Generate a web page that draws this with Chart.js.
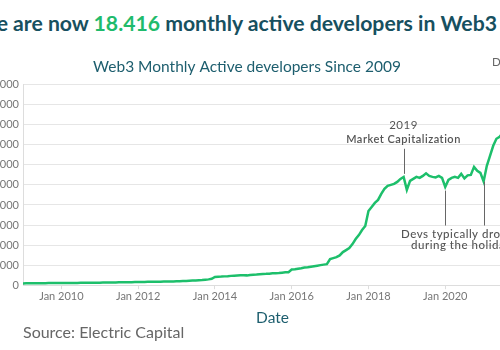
<!DOCTYPE html>
<html>
<head>
<meta charset="utf-8">
<script src="https://cdn.jsdelivr.net/npm/chart.js@4/dist/chart.umd.min.js"></script>
<style>
  html, body { margin: 0; padding: 0; background: #fff; overflow: hidden; }
  body { width: 500px; height: 350px; position: relative; font-family: Lato, "Noto Sans", sans-serif; }
  #headline { position: absolute; right: 3px; top: 13px; white-space: nowrap; font-size: 21.2px; font-weight: 700; color: #17505f; line-height: 1; }
  #headline span { color: #1fbb6c; }
  #wrap { position: absolute; left: -40px; top: 0; width: 600px; height: 350px; }
  #source { position: absolute; left: 23px; top: 322px; font-size: 16px; color: #666; white-space: nowrap; }
</style>
</head>
<body>
<div id="headline">We are now <span>18.416</span> monthly active developers in Web3</div>
<div id="wrap"><canvas id="devChart"></canvas></div>
<div id="source">Source: Electric Capital</div>
<script>
// monthly active developers, Jan 2009 .. Dec 2021
const startYear = 2009;
const devs = [
  180, 185, 190, 195, 200, 200, 205, 205, 210, 210, 215, 215,
  220, 220, 225, 225, 230, 230, 235, 235, 240, 240, 245, 250,
  255, 260, 265, 270, 275, 280, 285, 290, 295, 300, 305, 310,
  315, 320, 330, 335, 340, 345, 350, 355, 360, 365, 370, 380,
  390, 400, 410, 420, 440, 460, 480, 500, 520, 550, 580, 640,
  820, 850, 860, 880, 900, 930, 950, 970, 990, 1000, 980, 1020,
  1050, 1070, 1100, 1120, 1130, 1150, 1180, 1200, 1220, 1250, 1280, 1300,
  1560, 1600, 1650, 1700, 1760, 1800, 1850, 1900, 1950, 2000, 2050, 2100,
  2600, 2700, 2800, 2970, 3300, 3500, 3700, 4100, 4600, 5000, 5500, 5900,
  7400, 7800, 8200, 8500, 9100, 9600, 9900, 10000, 10100, 10300, 10600, 10800,
  9500, 10400, 10600, 10800, 10700, 10900, 11150, 10900, 10800, 10750, 10900, 10700,
  9800, 10500, 10700, 10800, 10700, 11100, 10650, 10950, 11000, 11800, 11400, 11200,
  10350, 11900, 12900, 13900, 14600, 14800, 15200, 15700, 16300, 17000, 17700, 18416
];
const yearTicks = [2010, 2012, 2014, 2016, 2018, 2020];
const subtitle = 'Web3 Monthly Active developers Since 2009';

const points = devs.map((v, i) => ({ x: startYear + i / 12, y: v }));
const lastPoint = points[points.length - 1];

// callouts, placed in data units
const marketCap = { lines: ['2019', 'Market Capitalization'], at: 2018.917, top: 13600, bottom: 11100 };
const holidays = { lines: ['Devs typically drop off', 'during the holidays'], at: [2020.0, 2021.0], top: [9430, 10330], bottom: 5950 };

const calloutPlugin = {
  id: 'callouts',
  afterDatasetsDraw(chart) {
    const { ctx, scales: { x, y } } = chart;
    ctx.save();
    ctx.strokeStyle = '#666';
    ctx.fillStyle = '#555';
    ctx.lineWidth = 1;
    ctx.textAlign = 'center';
    ctx.textBaseline = 'middle';
    ctx.letterSpacing = '0.5px';

    // market cap
    const mx = Math.round(x.getPixelForValue(marketCap.at)) + 0.5;
    const mTop = y.getPixelForValue(marketCap.top);
    ctx.beginPath();
    ctx.moveTo(mx, mTop);
    ctx.lineTo(mx, y.getPixelForValue(marketCap.bottom));
    ctx.stroke();
    ctx.font = '11.5px Lato';
    ctx.fillText(marketCap.lines[0], mx - 1, mTop - 23);
    ctx.font = '600 11px Lato';
    ctx.fillText(marketCap.lines[1], mx - 1, mTop - 9);

    // holidays
    const xs = holidays.at.map(v => Math.round(x.getPixelForValue(v)) + 0.5);
    const yb = y.getPixelForValue(holidays.bottom);
    xs.forEach((px, i) => {
      ctx.beginPath();
      ctx.moveTo(px, y.getPixelForValue(holidays.top[i]));
      ctx.lineTo(px, yb);
      ctx.stroke();
    });
    const cx = (xs[0] + xs[1]) / 2 - 1;
    ctx.font = '500 11.5px Lato';
    ctx.fillText(holidays.lines[0], cx, yb + 9);
    ctx.fillText(holidays.lines[1], cx, yb + 20);

    // end label
    const ex = x.getPixelForValue(lastPoint.x);
    ctx.fillStyle = '#666';
    ctx.font = '11.5px Lato';
    ctx.fillText('Dec 2021', ex, 62);
    ctx.fillText(lastPoint.y.toLocaleString('en-US'), ex, 75);
    ctx.restore();
  }
};

new Chart(document.getElementById('devChart'), {
  type: 'line',
  data: {
    datasets: [{
      label: 'Monthly active developers',
      data: points,
      borderColor: '#1dbf6b',
      borderWidth: 2.5,
      pointRadius: 0,
      tension: 0,
      fill: false
    }]
  },
  options: {
    responsive: true,
    maintainAspectRatio: false,
    animation: false,
    layout: { padding: { left: 12, right: 38, top: 0, bottom: 23 } },
    plugins: {
      legend: { display: false },
      tooltip: { enabled: false },
      title: {
        display: true,
        text: subtitle,
        color: '#1d5e6e',
        font: { family: 'Lato', size: 15.5, weight: 'normal' },
        padding: { top: 58, bottom: 8 }
      }
    },
    scales: {
      x: {
        type: 'linear',
        min: 2009,
        max: 2022,
        afterBuildTicks(scale) {
          scale.ticks = yearTicks.map(v => ({ value: v }));
        },
        ticks: {
          color: '#777',
          font: { family: 'Lato', size: 11 },
          padding: 1,
          maxRotation: 0,
          autoSkip: false,
          callback: v => 'Jan ' + v
        },
        grid: { drawOnChartArea: false, drawTicks: true, tickLength: 4, color: '#ddd' },
        border: { color: '#ddd' },
        title: {
          display: true,
          text: 'Date',
          color: '#1d5e6e',
          font: { family: 'Lato', size: 15.5 },
          padding: { top: 4, bottom: 0 }
        }
      },
      y: {
        min: 0,
        max: 20000,
        afterFit(scale) { scale.width = 51; },
        ticks: {
          stepSize: 2000,
          color: '#777',
          font: { family: 'Lato', size: 11 },
          padding: 4
        },
        grid: { color: '#e6e6e6', drawTicks: false },
        border: { color: '#ddd' }
      }
    }
  },
  plugins: [calloutPlugin]
});
</script>
</body>
</html>
